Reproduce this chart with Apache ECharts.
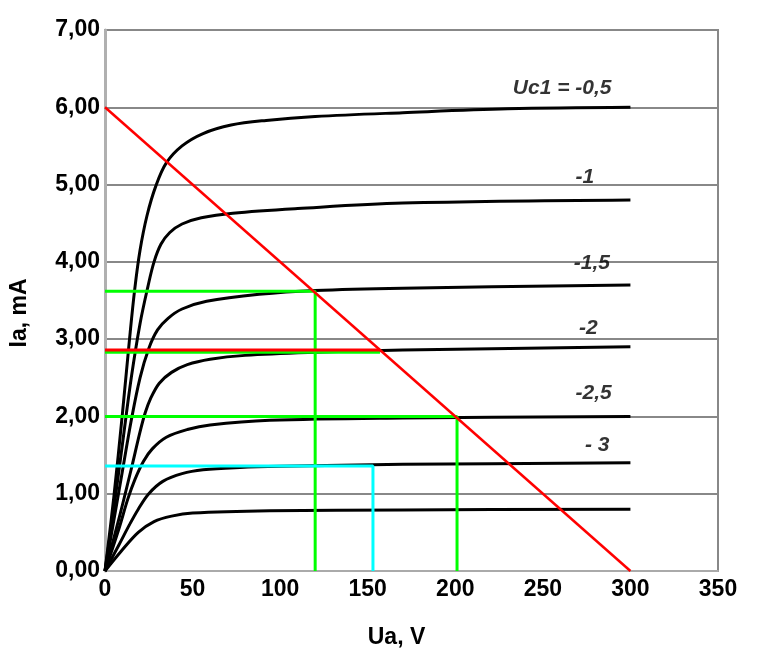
<!DOCTYPE html>
<html>
<head>
<meta charset="utf-8">
<script src="https://cdn.jsdelivr.net/npm/echarts@6.0.0/dist/echarts.min.js"></script>
<style>
	html, body { margin: 0; padding: 0; background: #fff; }
	#chart { width: 767px; height: 665px; }
</style>
</head>
<body>
<div id="chart"></div>
<script>
"use strict";

// anode characteristics, [Ua (V), Ia (mA)]
var curveM05 = [[0,0],[5,0.95],[10,2.05],[14,3.0],[17,3.65],[20,4.15],[24,4.6],[29,4.98],[35,5.28],[44,5.5],[56,5.66],[72,5.77],[92,5.83],[120,5.88],[170,5.93],[230,5.98],[300,6.0]];
var curveM10 = [[0,0],[5,0.8],[10,1.65],[15,2.5],[20,3.2],[24.5,3.68],[28,4.0],[32,4.23],[37,4.38],[44,4.49],[55,4.57],[73,4.63],[110,4.69],[170,4.76],[300,4.8]];
var curveM15 = [[0,0],[5,0.65],[10,1.3],[15,1.95],[20,2.5],[25,2.88],[30,3.12],[36,3.27],[44,3.39],[58,3.49],[88,3.58],[120,3.63],[170,3.66],[300,3.7]];
var curveM20 = [[0,0],[8,0.68],[15,1.32],[20,1.8],[23,2.05],[26,2.23],[31,2.43],[38,2.57],[47,2.67],[60,2.74],[80,2.79],[120,2.83],[170,2.86],[300,2.9]];
var curveM25 = [[0,0],[8,0.55],[13,0.93],[17,1.18],[22,1.42],[27,1.58],[35,1.73],[47,1.83],[60,1.89],[94,1.95],[170,1.98],[300,2.0]];
var curveM30 = [[0,0],[8,0.34],[14,0.6],[19,0.8],[25,1.0],[33,1.16],[44,1.26],[56,1.31],[77,1.34],[100,1.355],[170,1.38],[300,1.4]];
var curveM35 = [[0,0],[9,0.25],[19,0.5],[28,0.64],[38,0.71],[50,0.75],[94,0.78],[170,0.79],[300,0.8]];

// load line and operating point construction lines
var loadLine = [[0,6],[300,0]];
var redLevel = [[0,2.86],[157,2.86]];
var greenA = [[0,3.62],[120,3.62],[120,0]];
var greenB = [[0,2.83],[157,2.83]];
var greenC = [[0,2.0],[201,2.0],[201,0]];
var cyanA = [[0,1.36],[153,1.36],[153,0]];

// grid voltage labels
var labelText = ['Uc1 = -0,5', '-1', '-1,5', '-2', '-2,5', '- 3'];
var labelUa = [261, 274, 278, 276, 279, 281];
var labelIa = [6.25, 5.1, 3.98, 3.14, 2.3, 1.63];

var FONT = '"Liberation Sans", Arial, sans-serif';

var myChart = echarts.init(document.getElementById('chart'), null, { renderer: 'canvas' });

function curve(data) {
	return {
		type: 'line',
		data: data,
		symbol: 'none',
		smooth: 0.35,
		silent: true,
		lineStyle: { color: '#000', width: 3 },
		z: 2
	};
}

function straight(data, color, width, z) {
	return {
		type: 'line',
		data: data,
		symbol: 'none',
		silent: true,
		lineStyle: { color: color, width: width },
		z: z
	};
}

var labelData = [];
for (var i = 0; i < labelText.length; i++) {
	labelData.push([labelUa[i], labelIa[i], labelText[i]]);
}

var option = {
	animation: false,
	backgroundColor: '#fff',
	grid: {
		left: 105,
		right: 49,
		top: 30,
		bottom: 94,
		show: true,
		borderColor: '#888',
		borderWidth: 2,
		outerBoundsMode: 'none'
	},
	xAxis: {
		type: 'value',
		min: 0,
		max: 350,
		interval: 50,
		name: 'Ua, V',
		nameLocation: 'middle',
		nameGap: 55,
		nameTextStyle: { color: '#000', fontSize: 23, fontWeight: 'bold', fontFamily: FONT, padding: [0, 30, 0, 0] },
		axisLine: { show: true, lineStyle: { color: '#aaa', width: 2 } },
		axisTick: { show: false },
		axisLabel: { color: '#000', fontSize: 23, fontWeight: 'bold', fontFamily: FONT, margin: 7 },
		splitLine: { show: false }
	},
	yAxis: {
		type: 'value',
		min: 0,
		max: 7,
		interval: 1,
		name: 'Ia, mA',
		nameLocation: 'middle',
		nameGap: 74,
		nameTextStyle: { color: '#000', fontSize: 23, fontWeight: 'bold', fontFamily: FONT, padding: [0, 25, 0, 0] },
		axisLine: { show: true, lineStyle: { color: '#b0b0b0', width: 3 } },
		axisTick: { show: false },
		axisLabel: {
			color: '#000', fontSize: 23, fontWeight: 'bold', fontFamily: FONT, margin: 5,
			formatter: function (v) { return v.toFixed(2).replace('.', ','); }
		},
		splitLine: { show: true, lineStyle: { color: '#888', width: 2 } }
	},
	series: [
		curve(curveM05),
		curve(curveM10),
		curve(curveM15),
		curve(curveM20),
		curve(curveM25),
		curve(curveM30),
		curve(curveM35),
		straight(greenA, '#00ff00', 3, 3),
		straight(greenB, '#00ff00', 3, 3),
		straight(greenC, '#00ff00', 3, 3),
		straight(cyanA, '#00ffff', 3, 3),
		straight(redLevel, '#ff0000', 3, 4),
		straight(loadLine, '#ff0000', 2.5, 5),
		{
			type: 'scatter',
			data: labelData,
			symbolSize: 0,
			silent: true,
			z: 6,
			label: {
				show: true,
				position: 'inside',
				formatter: function (p) { return p.data[2]; },
				color: '#000',
				fontSize: 21,
				fontStyle: 'italic',
				fontWeight: 'bold',
				fontFamily: FONT
			}
		}
	]
};

myChart.setOption(option);
</script>
</body>
</html>
